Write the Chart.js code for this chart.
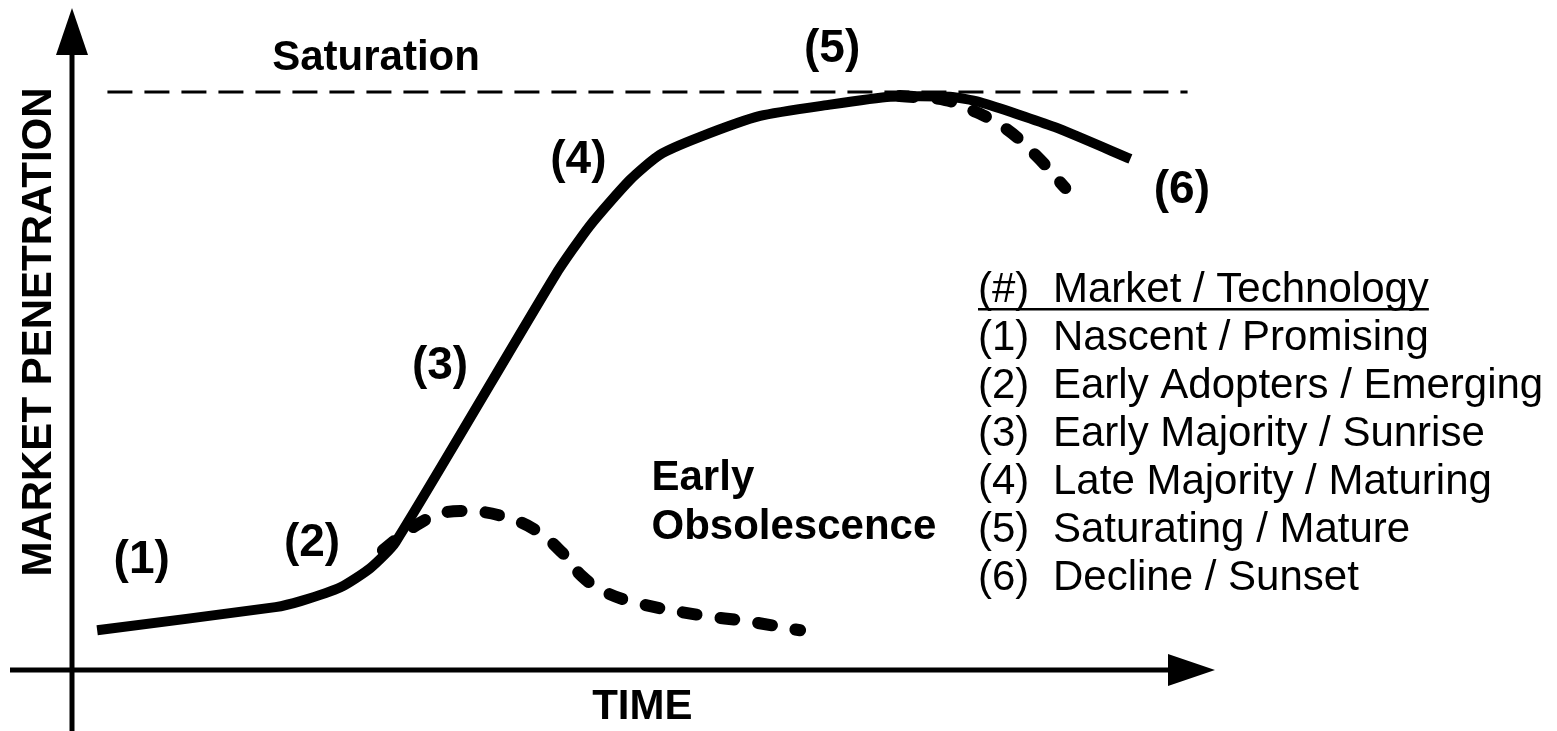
<!DOCTYPE html>
<html>
<head>
<meta charset="utf-8">
<script src="https://cdn.jsdelivr.net/npm/chart.js@4/dist/chart.umd.min.js"></script>
<style>
  body { margin: 0; background: #fff; }
  #wrap { width: 1557px; height: 731px; position: relative; }
</style>
</head>
<body>
<div id="wrap"><canvas id="lifeCycle"></canvas></div>
<script>
// time (x) and market penetration (y), both 0..100
var mainTime = [2.2, 17.8, 20.0, 23.5, 26.1, 28.3, 42.3, 45.3, 48.8, 51.4, 54.9, 60.2, 66.3, 71.6, 76.8, 79.4, 86.0, 92.6];
var mainPen  = [6.0, 9.5, 10.4, 12.5, 15.4, 19.3, 59.7, 67.1, 74.0, 77.8, 80.5, 83.7, 85.4, 86.6, 86.6, 85.8, 82.0, 77.2];

var earlyTime = [27.2, 29.6, 32.2, 34.8, 37.5, 40.5, 42.9, 44.6, 46.6, 49.7, 54.9, 59.3, 63.7];
var earlyPen  = [18.1, 21.3, 23.6, 24.0, 23.3, 21.2, 17.7, 14.2, 11.8, 10.0, 8.3, 7.3, 6.0];

var declineTime = [72.4, 76.4, 78.7, 81.6, 84.3, 86.9];
var declinePen  = [86.7, 86.1, 84.6, 81.9, 77.8, 72.8];

var saturationLevel = 87.3;
var saturationFrom = 3.1;
var saturationTo = 97.6;

var stageLabels = ["(1)", "(2)", "(3)", "(4)", "(5)", "(6)"];
var stageTime   = [6.1, 21.0, 32.2, 44.3, 66.5, 97.1];
var stagePen    = [16.6, 19.2, 45.9, 77.0, 93.7, 72.5];

var legendHeader = ["(#)", "Market / Technology"];
var legendNums  = ["(1)", "(2)", "(3)", "(4)", "(5)", "(6)"];
var legendNames = ["Nascent / Promising", "Early Adopters / Emerging", "Early Majority / Sunrise",
                   "Late Majority / Maturing", "Saturating / Mature", "Decline / Sunset"];

function toPoints(xs, ys) {
    var pts = [];
    for (let i = 0; i < xs.length; i += 1) {
        pts.push({x: xs[i], y: ys[i]});
    }
    return pts;
}

var FONT = '"Liberation Sans", Arial, Helvetica, sans-serif';

var drawingPlugin = {
    id: "drawing",
    beforeDatasetsDraw: function(chart) {
        var ctx = chart.ctx;
        var xs = chart.scales.x, ys = chart.scales.y;
        var ox = xs.getPixelForValue(0), oy = ys.getPixelForValue(0);
        var top = chart.chartArea.top, right = chart.chartArea.right;
        ctx.save();
        ctx.fillStyle = "#000";
        ctx.strokeStyle = "#000";
        ctx.lineWidth = 5;
        // vertical axis
        ctx.beginPath();
        ctx.moveTo(ox, chart.height);
        ctx.lineTo(ox, top + 46);
        ctx.stroke();
        ctx.beginPath();
        ctx.moveTo(ox, top);
        ctx.lineTo(ox - 16, top + 47);
        ctx.lineTo(ox + 16, top + 47);
        ctx.closePath();
        ctx.fill();
        // horizontal axis
        ctx.beginPath();
        ctx.moveTo(10, oy);
        ctx.lineTo(right - 46, oy);
        ctx.stroke();
        ctx.beginPath();
        ctx.moveTo(right, oy);
        ctx.lineTo(right - 47, oy - 16);
        ctx.lineTo(right - 47, oy + 16);
        ctx.closePath();
        ctx.fill();
        ctx.restore();
    },
    afterDatasetsDraw: function(chart) {
        var ctx = chart.ctx;
        var xs = chart.scales.x, ys = chart.scales.y;
        ctx.save();
        ctx.fillStyle = "#000";
        ctx.textBaseline = "middle";
        ctx.textAlign = "center";
        ctx.font = "bold 46px " + FONT;
        for (let i = 0; i < stageLabels.length; i += 1) {
            ctx.fillText(stageLabels[i], xs.getPixelForValue(stageTime[i]), ys.getPixelForValue(stagePen[i]));
        }
        ctx.font = "bold 42px " + FONT;
        ctx.fillText("Saturation", xs.getPixelForValue(26.6), ys.getPixelForValue(92.4));
        ctx.fillText("TIME", xs.getPixelForValue(49.9), ys.getPixelForValue(-5.7));
        ctx.textAlign = "left";
        ctx.fillText("Early", xs.getPixelForValue(50.7), ys.getPixelForValue(29.0));
        ctx.fillText("Obsolescence", xs.getPixelForValue(50.7), ys.getPixelForValue(21.6));

        ctx.save();
        ctx.translate(39, 332);
        ctx.rotate(-Math.PI / 2);
        ctx.textAlign = "center";
        ctx.fillText("MARKET PENETRATION", 0, 0);
        ctx.restore();

        // legend list
        ctx.font = "42px " + FONT;
        ctx.textAlign = "left";
        var lx = 978, tx = 1053, ly = 290, step = 48;
        ctx.fillText(legendHeader[0], lx, ly);
        ctx.fillText(legendHeader[1], tx, ly);
        var w = ctx.measureText(legendHeader[1]).width;
        ctx.fillRect(lx, ly + 18, tx + w - lx, 2.5);
        for (let i = 0; i < legendNums.length; i += 1) {
            ctx.fillText(legendNums[i], lx, ly + step * (i + 1));
            ctx.fillText(legendNames[i], tx, ly + step * (i + 1));
        }
        ctx.restore();
    }
};

var ctx = document.getElementById("lifeCycle").getContext("2d");
var chart = new Chart(ctx, {
    type: "line",
    data: {
        datasets: [
            {
                label: "Saturation",
                data: [{x: saturationFrom, y: saturationLevel}, {x: saturationTo, y: saturationLevel}],
                borderColor: "#000",
                borderWidth: 3,
                borderDash: [25, 12],
                pointRadius: 0
            },
            {
                label: "Early Obsolescence",
                data: toPoints(earlyTime, earlyPen),
                borderColor: "#000",
                borderWidth: 12,
                borderDash: [14, 24],
                borderCapStyle: "round",
                tension: 0.4,
                pointRadius: 0
            },
            {
                label: "Decline",
                data: toPoints(declineTime, declinePen),
                borderColor: "#000",
                borderWidth: 12,
                borderDash: [14, 24],
                borderCapStyle: "round",
                tension: 0.4,
                pointRadius: 0
            },
            {
                label: "Market penetration",
                data: toPoints(mainTime, mainPen),
                borderColor: "#000",
                borderWidth: 10,
                borderJoinStyle: "round",
                tension: 0.2,
                pointRadius: 0
            }
        ]
    },
    options: {
        responsive: true,
        maintainAspectRatio: false,
        animation: false,
        layout: { padding: { left: 72, right: 342, top: 8, bottom: 61 } },
        clip: false,
        scales: {
            x: { type: "linear", min: 0, max: 100, display: false },
            y: { type: "linear", min: 0, max: 100, display: false }
        },
        plugins: {
            legend: { display: false },
            tooltip: { enabled: false }
        }
    },
    plugins: [drawingPlugin]
});
</script>
</body>
</html>
